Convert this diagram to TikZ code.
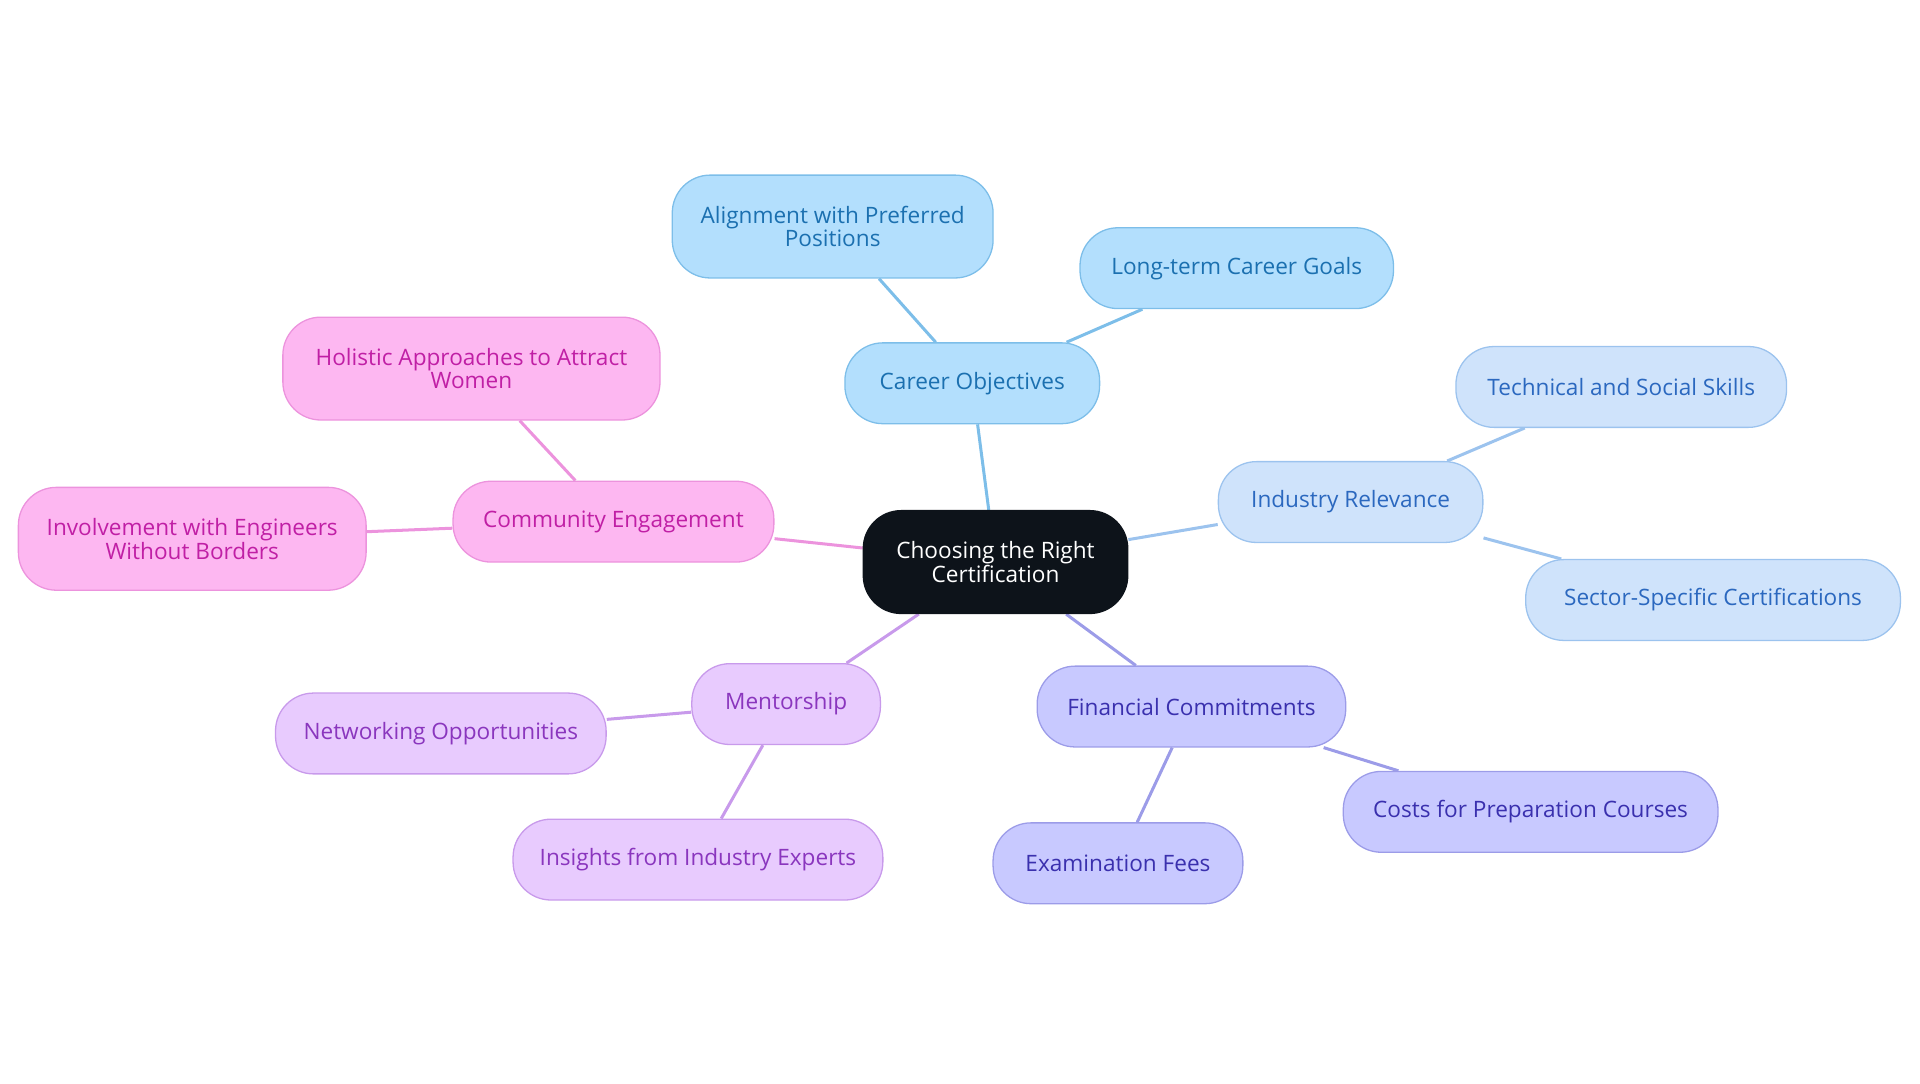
\documentclass[tikz,border=0pt]{standalone}
\usepackage{fontspec}
\setmainfont{Open Sans}
\usetikzlibrary{backgrounds}
\definecolor{hubfill}{HTML}{0D131A}
\definecolor{carfill}{HTML}{B3DFFD}\definecolor{cardraw}{HTML}{7DBEE9}\definecolor{cartext}{HTML}{1B70B0}
\definecolor{indfill}{HTML}{CFE3FB}\definecolor{inddraw}{HTML}{9CC3EE}\definecolor{indtext}{HTML}{2B68BF}
\definecolor{finfill}{HTML}{C8C9FF}\definecolor{findraw}{HTML}{9C9CE8}\definecolor{fintext}{HTML}{3A30AE}
\definecolor{menfill}{HTML}{E8CBFE}\definecolor{mendraw}{HTML}{C89AEB}\definecolor{mentext}{HTML}{8A36BE}
\definecolor{comfill}{HTML}{FDB7F1}\definecolor{comdraw}{HTML}{EC93DD}\definecolor{comtext}{HTML}{C01FA5}
\tikzset{
  box/.style={draw, rounded corners=0.62cm, minimum height=1.32cm, align=center, font=\fontsize{10.5}{11}\selectfont, line width=0.6pt},
  hub/.style={box, fill=hubfill, draw=hubfill, text=white, minimum width=4.32cm, minimum height=1.68cm},
  car/.style={box, fill=carfill, draw=cardraw, text=cartext},
  ind/.style={box, fill=indfill, draw=inddraw, text=indtext},
  fin/.style={box, fill=finfill, draw=findraw, text=fintext},
  men/.style={box, fill=menfill, draw=mendraw, text=mentext},
  com/.style={box, fill=comfill, draw=comdraw, text=comtext},
  link/.style={line width=1.4pt}
}
\begin{document}
\begin{tikzpicture}
    \useasboundingbox (0,0) rectangle (31.36,-17.69);
    \node[hub] (hub) at (16.26,-9.18) {Choosing the Right\\Certification};
    % career objectives
    \node[car, minimum width=4.16cm] (career) at (15.88,-6.26) {Career Objectives};
    \node[car, minimum width=5.24cm, minimum height=1.68cm] (align) at (13.6,-3.7) {Alignment with Preferred\\Positions};
    \node[car, minimum width=5.12cm] (goals) at (20.2,-4.38) {Long-term Career Goals};
    % industry relevance
    \node[ind, minimum width=4.32cm] (industry) at (22.06,-8.2) {Industry Relevance};
    \node[ind, minimum width=5.4cm] (skills) at (26.48,-6.32) {Technical and Social Skills};
    \node[ind, minimum width=6.12cm] (sector) at (27.98,-9.8) {Sector-Specific Certifications};
    % financial commitments
    \node[fin, minimum width=5.04cm] (finance) at (19.46,-11.54) {Financial Commitments};
    \node[fin, minimum width=4.08cm] (exam) at (18.26,-14.1) {Examination Fees};
    \node[fin, minimum width=6.12cm] (courses) at (25,-13.26) {Costs for Preparation Courses};
    % mentorship
    \node[men, minimum width=3.08cm] (mentor) at (12.84,-11.5) {Mentorship};
    \node[men, minimum width=5.4cm] (network) at (7.2,-11.98) {Networking Opportunities};
    \node[men, minimum width=6.04cm] (experts) at (11.4,-14.04) {Insights from Industry Experts};
    % community engagement
    \node[com, minimum width=5.24cm] (community) at (10.02,-8.52) {Community Engagement};
    \node[com, minimum width=6.16cm, minimum height=1.68cm] (holistic) at (7.7,-6.02) {Holistic Approaches to Attract\\Women};
    \node[com, minimum width=5.68cm, minimum height=1.68cm] (ewb) at (3.14,-8.8) {Involvement with Engineers\\Without Borders};
    \begin{scope}[on background layer]
        \draw[link, cardraw] (hub) -- (career) (career) -- (align) (career) -- (goals);
        \draw[link, inddraw] (hub) -- (industry) (industry) -- (skills) (industry) -- (sector);
        \draw[link, findraw] (hub) -- (finance) (finance) -- (exam) (finance) -- (courses);
        \draw[link, mendraw] (hub) -- (mentor) (mentor) -- (network) (mentor) -- (experts);
        \draw[link, comdraw] (hub) -- (community) (community) -- (holistic) (community) -- (ewb);
    \end{scope}
\end{tikzpicture}
\end{document}
